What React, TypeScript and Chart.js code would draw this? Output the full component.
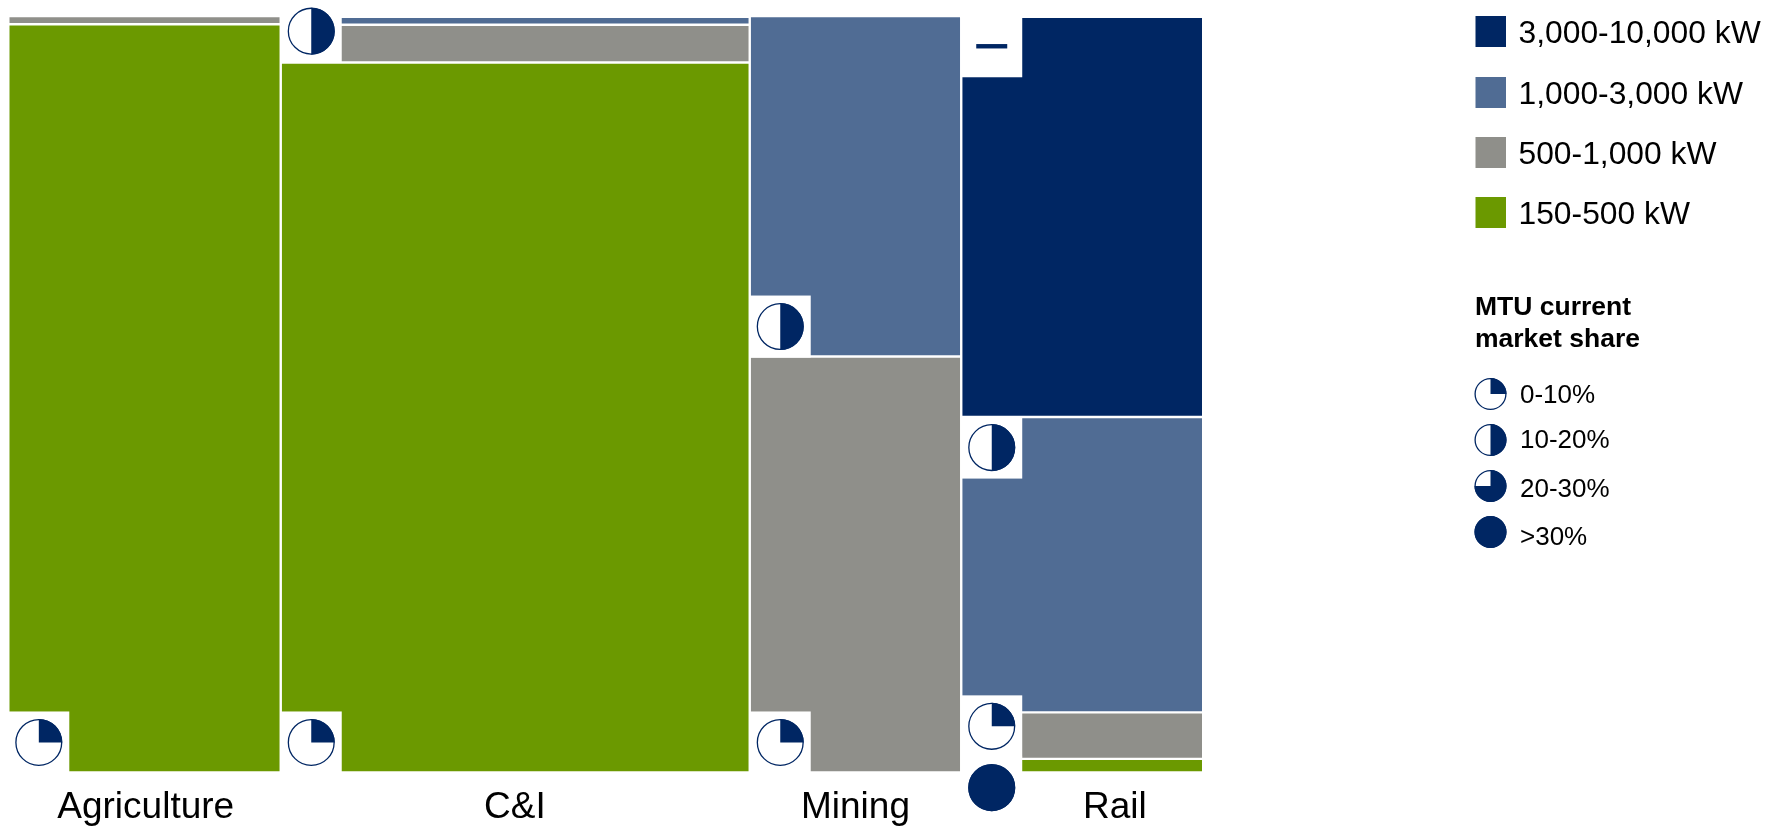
import React, { useEffect, useRef } from "react";
import { Chart, BarController, registerables } from "chart.js";

Chart.register(...registerables);

// Market size by application: column widths are each application's share of the total market.
const categories = ["Agriculture", "C&I", "Mining", "Rail"];
const columnWidths = [22.8, 39.25, 17.7, 20.25];
const tickPositions = [11.5, 42.4, 70.9, 92.6];

// Power-band split within each application, in percent of the column.
const band150to500 = [98.9, 93.85, 0, 1.8];
const band500to1000 = [1.1, 5.0, 55.0, 6.15];
const band1000to3000 = [0, 1.05, 45.0, 39.05];
const band3000to10000 = [0, 0, 0, 52.9];

const sizeLabels = ["3,000-10,000 kW", "1,000-3,000 kW", "500-1,000 kW", "150-500 kW"];
const shareLabels = ["0-10%", "10-20%", "20-30%", ">30%"];
const shareTitle = ["MTU current", "market share"];

// Harvey balls: column index, height on the value axis, filled quarters (0 draws a dash).
const ballColumns = [0, 1, 1, 2, 2, 3, 3, 3, 3];
const ballHeights = [3.97, 3.97, 98.0, 58.95, 3.97, 96.0, 42.95, 6.1, -2.0];
const ballQuarters = [1, 1, 2, 2, 1, 0, 2, 1, 4];

const NAVY = "#002663";
const BLUE = "#506C94";
const GRAY = "#8F8F8A";
const GREEN = "#6B9900";
const FONT = '"Liberation Sans", Arial, sans-serif';

const columnStarts = columnWidths.map((_, i) =>
  columnWidths.slice(0, i).reduce((a, b) => a + b, 0)
);

const toPoints = (values: number[]) =>
  values.flatMap((y, i) =>
    y > 0 ? [{ x: columnStarts[i] + columnWidths[i] / 2, y, w: columnWidths[i] }] : []
  );

// Bar controller whose bar widths come from the data, giving a Marimekko layout.
class MekkoController extends BarController {
  static id = "mekko";
  static defaults = BarController.defaults;
  static overrides = BarController.overrides;
  _calculateBarIndexPixels(index: number) {
    const d: any = this.getDataset().data[index];
    const scale: any = (this as any)._cachedMeta.iScale;
    const left = scale.getPixelForValue(d.x - d.w / 2);
    const right = scale.getPixelForValue(d.x + d.w / 2);
    return { base: left, head: right, center: (left + right) / 2, size: right - left };
  }
}
Chart.register(MekkoController as any);

function drawBall(
  ctx: CanvasRenderingContext2D,
  cx: number,
  cy: number,
  r: number,
  quarters: number
) {
  ctx.save();
  if (quarters === 0) {
    ctx.fillStyle = NAVY;
    ctx.fillRect(cx - 15.5, cy - 2.2, 31, 4.4);
    ctx.restore();
    return;
  }
  ctx.beginPath();
  ctx.arc(cx, cy, r - 0.6, 0, Math.PI * 2);
  ctx.fillStyle = "#fff";
  ctx.fill();
  ctx.lineWidth = 1.3;
  ctx.strokeStyle = NAVY;
  ctx.stroke();
  ctx.beginPath();
  ctx.moveTo(cx, cy);
  ctx.arc(cx, cy, r, -Math.PI / 2, -Math.PI / 2 + (quarters * Math.PI) / 2);
  ctx.closePath();
  ctx.fillStyle = NAVY;
  ctx.fill();
  ctx.restore();
}

const ballPlugin = {
  id: "harveyBalls",
  afterDatasetsDraw(chart: any) {
    const { ctx, scales } = chart;
    ballColumns.forEach((col, i) => {
      const left = scales.x.getPixelForValue(columnStarts[col]);
      const cy = scales.y.getPixelForValue(ballHeights[i]);
      ctx.fillStyle = "#fff";
      ctx.fillRect(left - 0.5, cy - 31, 61.5, 62);
    });
    ballColumns.forEach((col, i) => {
      const left = scales.x.getPixelForValue(columnStarts[col]);
      const cy = scales.y.getPixelForValue(ballHeights[i]);
      drawBall(ctx, left + 30.5, cy, 23.5, ballQuarters[i]);
    });
  },
};

const legendPlugin = {
  id: "sideLegends",
  afterDraw(chart: any) {
    const { ctx } = chart;
    ctx.save();
    ctx.textAlign = "left";
    ctx.textBaseline = "alphabetic";
    ctx.fillStyle = "#000";

    const swatches = [NAVY, BLUE, GRAY, GREEN];
    const swatchTops = [16, 77, 137, 197];
    const sizeBaselines = [42.5, 103.5, 164, 224];
    ctx.font = `31.8px ${FONT}`;
    sizeLabels.forEach((label, i) => {
      ctx.fillStyle = swatches[i];
      ctx.fillRect(1475.5, swatchTops[i], 30.5, 31);
      ctx.fillStyle = "#000";
      ctx.fillText(label, 1518.5, sizeBaselines[i]);
    });

    ctx.font = `bold 26.5px ${FONT}`;
    shareTitle.forEach((line, i) => ctx.fillText(line, 1475, 315 + i * 31.7));

    const ballYs = [394, 440, 486, 532];
    const shareBaselines = [403, 448, 497, 545];
    ctx.font = `26px ${FONT}`;
    shareLabels.forEach((label, i) => {
      drawBall(ctx, 1490.5, ballYs[i], 16, i + 1);
      ctx.fillStyle = "#000";
      ctx.fillText(label, 1520, shareBaselines[i]);
    });
    ctx.restore();
  },
};

export default function App() {
  const canvasRef = useRef<HTMLCanvasElement>(null);

  useEffect(() => {
    document.body.style.margin = "0";
    const segment = { borderColor: "#fff", borderWidth: 1.2, borderSkipped: false };
    const chart = new Chart(canvasRef.current as any, {
      type: "mekko" as any,
      data: {
        datasets: [
          { label: sizeLabels[3], data: toPoints(band150to500), backgroundColor: GREEN, ...segment },
          { label: sizeLabels[2], data: toPoints(band500to1000), backgroundColor: GRAY, ...segment },
          { label: sizeLabels[1], data: toPoints(band1000to3000), backgroundColor: BLUE, ...segment },
          { label: sizeLabels[0], data: toPoints(band3000to10000), backgroundColor: NAVY, ...segment },
        ] as any,
      },
      options: {
        animation: false,
        responsive: false,
        layout: { padding: { left: 8.3, right: 576.8, top: 16, bottom: 0 } },
        plugins: { legend: { display: false }, tooltip: { enabled: false } },
        scales: {
          x: {
            type: "linear",
            min: 0,
            max: 100,
            offset: false,
            stacked: true,
            grid: { display: false, drawTicks: false, offset: false },
            border: { display: false },
            afterBuildTicks: (scale: any) => {
              scale.ticks = tickPositions.map((value) => ({ value }));
            },
            afterFit: (scale: any) => {
              scale.height = 55.5;
            },
            ticks: {
              autoSkip: false,
              maxRotation: 0,
              padding: 13.5,
              color: "#000",
              font: { family: FONT, size: 37 },
              callback: (_v: any, i: number) => categories[i],
            },
          },
          y: {
            type: "linear",
            display: false,
            stacked: true,
            min: 0,
            max: 100,
          },
        },
      } as any,
      plugins: [ballPlugin, legendPlugin],
    });
    return () => chart.destroy();
  }, []);

  return (
    <canvas
      ref={canvasRef}
      width={1780}
      height={828}
      style={{ display: "block", width: 1780, height: 828 }}
    />
  );
}
